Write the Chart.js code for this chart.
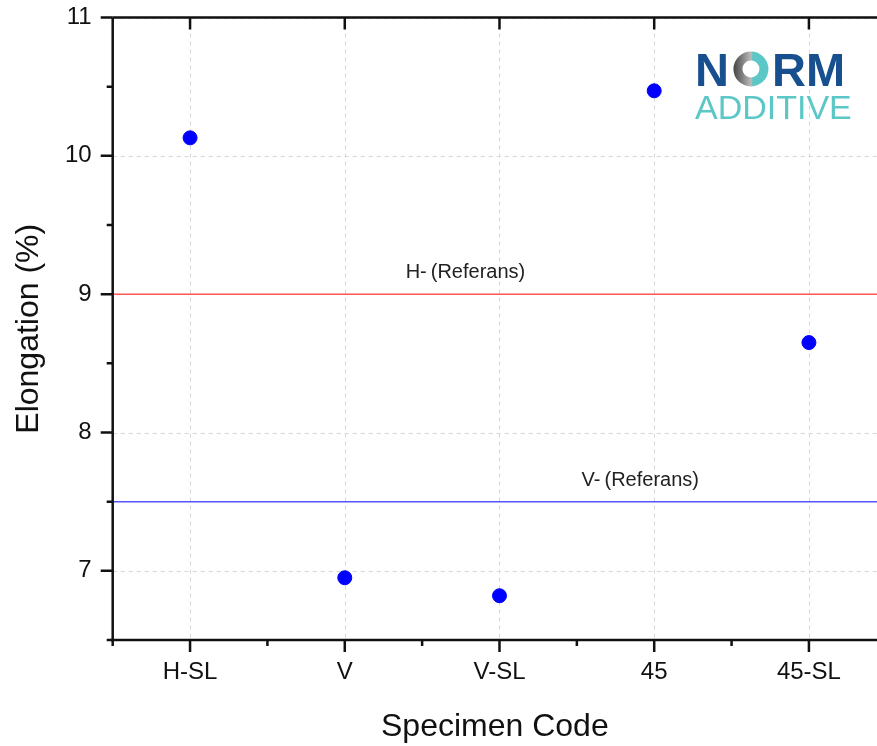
<!DOCTYPE html>
<html>
<head>
<meta charset="utf-8">
<script src="https://cdn.jsdelivr.net/npm/chart.js@4.4.1/dist/chart.umd.min.js"></script>
<style>
  html, body { margin: 0; padding: 0; background: #fff; overflow: hidden; }
  #wrap { width: 877px; height: 746px; }
</style>
</head>
<body>
<div id="wrap"><canvas id="chart" width="877" height="746"></canvas></div>
<script>
const categories = ['H-SL', 'V', 'V-SL', '45', '45-SL'];
const elongation = [10.13, 6.95, 6.82, 10.47, 8.65];
const yTicks = [7, 8, 9, 10, 11];
const refValues = [9, 7.5];
const refLabels = ['H-\u2009(Referans)', 'V-\u2009(Referans)'];
const refColors = ['#ff5555', '#5555ff'];

const ctx = document.getElementById('chart');
const FONT = "'Liberation Sans', Arial, sans-serif";

const points = elongation.map((v, i) => ({ x: i, y: v }));

// grid, axes frame, ticks, reference lines, logo
const decorPlugin = {
    id: 'decor',
    beforeDatasetsDraw(chart) {
        const c = chart.ctx;
        const area = chart.chartArea;
        const xs = chart.scales.x;
        const ys = chart.scales.y;

        c.save();
        // dashed grid
        c.strokeStyle = '#d6d6d6';
        c.lineWidth = 1;
        c.setLineDash([4, 4]);
        c.beginPath();
        yTicks.forEach((v) => {
            const py = Math.round(ys.getPixelForValue(v)) + 0.5;
            c.moveTo(area.left, py);
            c.lineTo(area.right, py);
        });
        categories.forEach((_, i) => {
            const px = Math.round(xs.getPixelForValue(i)) + 0.5;
            c.moveTo(px, area.top);
            c.lineTo(px, area.bottom);
        });
        c.stroke();
        c.setLineDash([]);

        // reference lines
        refValues.forEach((v, i) => {
            const py = ys.getPixelForValue(v);
            c.strokeStyle = refColors[i];
            c.lineWidth = 1.5;
            c.beginPath();
            c.moveTo(area.left, py);
            c.lineTo(area.right, py);
            c.stroke();
        });

        c.fillStyle = '#222';
        c.font = '20px ' + FONT;
        c.textAlign = 'center';
        c.textBaseline = 'alphabetic';
        const labelX = [1.78, 2.91];
        refValues.forEach((v, i) => {
            c.fillText(refLabels[i], xs.getPixelForValue(labelX[i]), ys.getPixelForValue(v) - 16);
        });
        c.restore();
    },
    afterDraw(chart) {
        const c = chart.ctx;
        const area = chart.chartArea;
        const xs = chart.scales.x;
        const ys = chart.scales.y;

        c.save();
        c.strokeStyle = '#111';
        c.lineWidth = 2.5;
        c.lineCap = 'butt';

        // frame: left, bottom, top
        c.beginPath();
        c.moveTo(area.left, area.top);
        c.lineTo(area.left, area.bottom);
        c.moveTo(area.left - 2, area.bottom);
        c.lineTo(area.right, area.bottom);
        c.moveTo(area.left, area.top);
        c.lineTo(area.right, area.top);
        c.stroke();

        // y ticks (outward), major and minor
        c.beginPath();
        for (let v = ys.min; v <= ys.max + 1e-6; v += 0.5) {
            const py = ys.getPixelForValue(v);
            const len = Number.isInteger(v) ? 12 : 6;
            c.moveTo(area.left, py);
            c.lineTo(area.left - len, py);
        }
        // x ticks bottom (outward) and top (inward)
        for (let v = -0.5; v <= xs.max + 1e-6; v += 0.5) {
            const px = xs.getPixelForValue(v);
            const major = Number.isInteger(v);
            const len = major ? 12 : 6;
            c.moveTo(px, area.bottom);
            c.lineTo(px, area.bottom + len);
            if (major) {
                c.moveTo(px, area.top);
                c.lineTo(px, area.top + 12);
            }
        }
        c.stroke();

        // logo
        const lx = 695;
        c.textBaseline = 'alphabetic';
        c.textAlign = 'left';
        c.font = 'bold 47px ' + FONT;
        c.fillStyle = '#18508f';
        c.fillText('N', lx, 86);
        const nW = c.measureText('N').width;
        const oCx = lx + nW + 22;
        const oCy = 69;
        const grad = c.createLinearGradient(oCx - 20, oCy, oCx + 20, oCy);
        grad.addColorStop(0, '#333');
        grad.addColorStop(0.5, '#bbb');
        grad.addColorStop(0.55, '#5cc7c7');
        grad.addColorStop(1, '#5cc7c7');
        c.strokeStyle = grad;
        c.lineWidth = 9;
        c.beginPath();
        c.arc(oCx, oCy, 13, 0, Math.PI * 2);
        c.stroke();
        c.fillText('RM', oCx + 21, 86);
        c.font = '34px ' + FONT;
        c.fillStyle = '#5cc7c7';
        c.fillText('ADDITIVE', lx, 119);
        c.restore();
    }
};

new Chart(ctx, {
    type: 'scatter',
    data: {
        datasets: [{
            label: 'Elongation',
            data: points,
            backgroundColor: '#0000ff',
            borderColor: '#0000ff',
            pointRadius: 7,
            pointHoverRadius: 7
        }]
    },
    options: {
        responsive: false,
        animation: false,
        events: [],
        layout: {
            autoPadding: false,
            padding: { top: 17.5, right: 0, left: 0, bottom: 0 }
        },
        plugins: {
            legend: { display: false },
            tooltip: { enabled: false }
        },
        scales: {
            x: {
                type: 'linear',
                min: -0.5,
                max: 4.44,
                afterFit: (s) => {
                    s.height = 106;
                    s.paddingLeft = 0;
                    s.paddingRight = 0;
                },
                afterBuildTicks: (s) => {
                    s.ticks = categories.map((_, i) => ({ value: i }));
                },
                border: { display: false },
                grid: {
                    color: 'transparent',
                    drawTicks: true,
                    tickLength: 12,
                    tickColor: 'transparent'
                },
                ticks: {
                    color: '#111',
                    padding: 6,
                    maxRotation: 0,
                    autoSkip: false,
                    font: { family: FONT, size: 24 },
                    callback: (v) => categories[v]
                },
                title: {
                    display: true,
                    text: 'Specimen Code',
                    color: '#111',
                    font: { family: FONT, size: 32 },
                    padding: { top: 0, bottom: 0 }
                }
            },
            y: {
                min: 6.5,
                max: 11,
                afterFit: (s) => {
                    s.width = 112.7;
                    s.paddingTop = 0;
                    s.paddingBottom = 0;
                },
                afterBuildTicks: (s) => {
                    s.ticks = yTicks.map((v) => ({ value: v }));
                },
                border: { display: false },
                grid: {
                    color: 'transparent',
                    drawTicks: true,
                    tickLength: 12,
                    tickColor: 'transparent'
                },
                ticks: {
                    color: '#111',
                    padding: 9,
                    font: { family: FONT, size: 24 }
                },
                title: {
                    display: true,
                    text: 'Elongation (%)',
                    color: '#111',
                    font: { family: FONT, size: 32 },
                    padding: 10
                }
            }
        }
    },
    plugins: [decorPlugin]
});
</script>
</body>
</html>
